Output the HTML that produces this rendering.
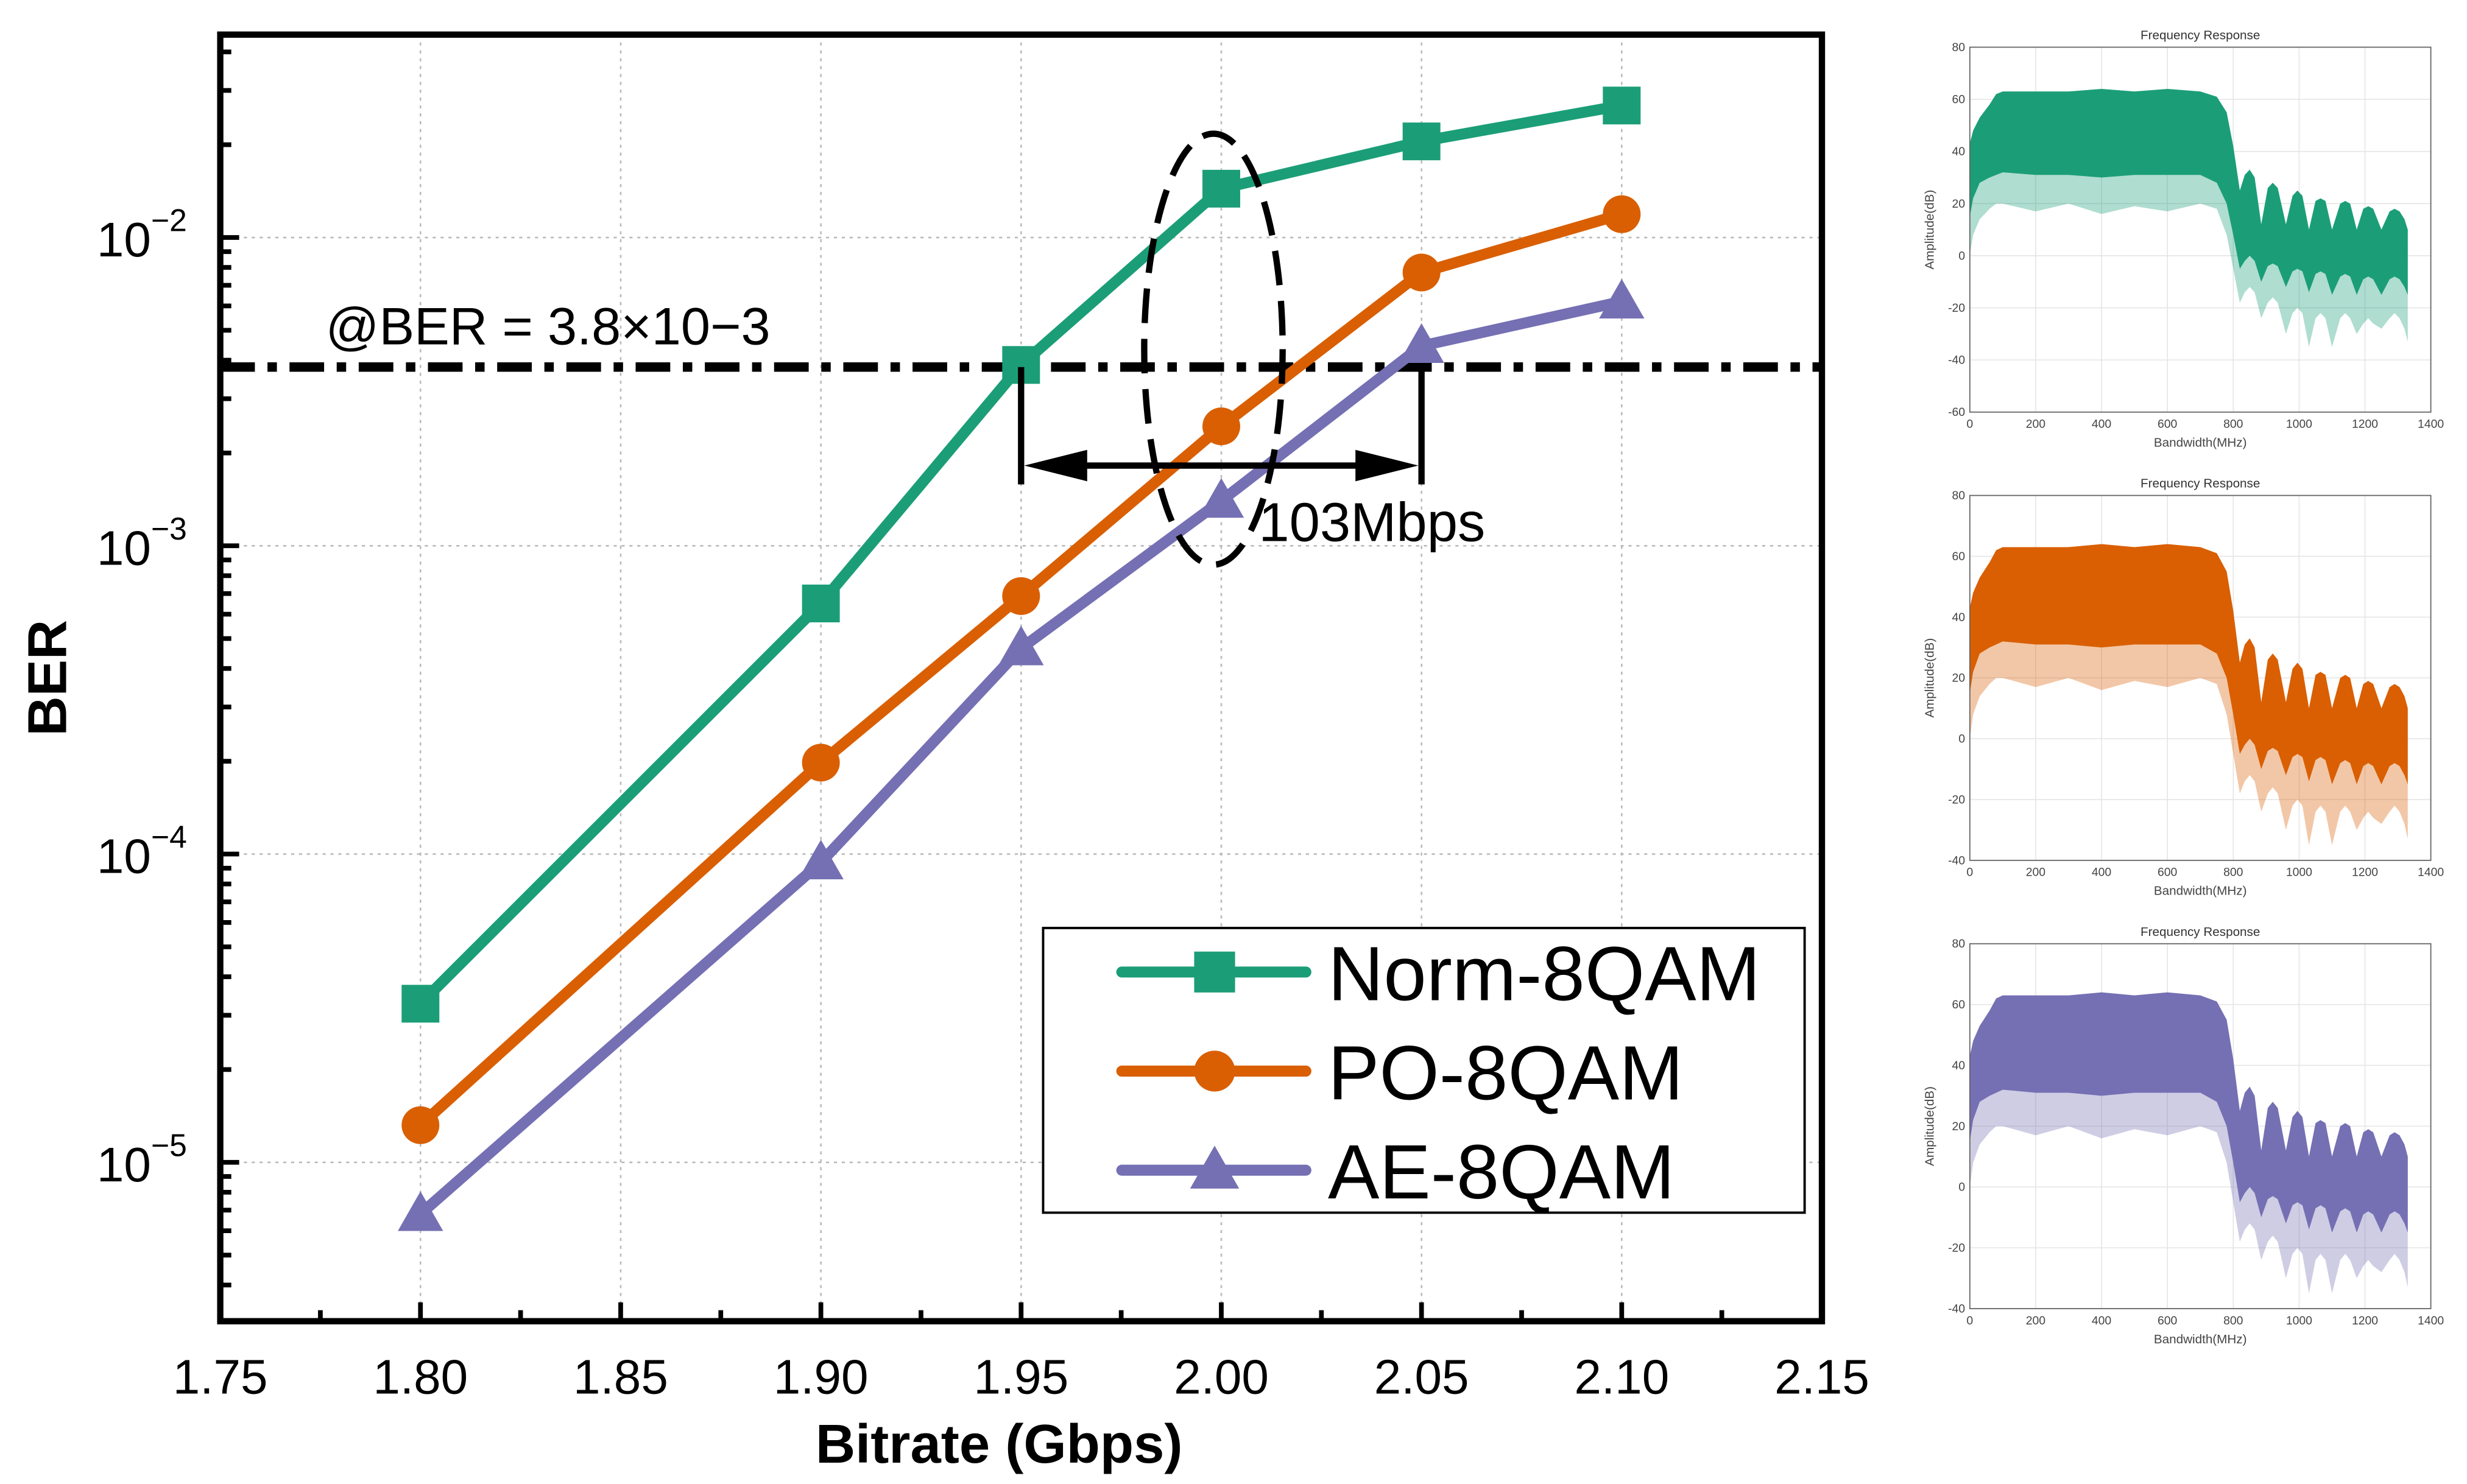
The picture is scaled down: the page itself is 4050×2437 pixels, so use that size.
<!DOCTYPE html>
<html><head><meta charset="utf-8"><style>
html,body{margin:0;padding:0;background:#fff}
svg{display:block}
text{font-family:"Liberation Sans",sans-serif}
</style></head><body>
<svg id="fig" width="4050" height="2437" viewBox="0 0 1568 943.5" xmlns="http://www.w3.org/2000/svg"></svg>
<script>
// ---- main chart data ----
const bitrates = [1.80, 1.90, 1.95, 2.00, 2.05, 2.10];
const normBER = [3.27e-5, 6.5e-4, 3.86e-3, 1.44e-2, 2.05e-2, 2.68e-2];
const poBER   = [1.32e-5, 1.98e-4, 6.87e-4, 2.44e-3, 7.7e-3, 1.19e-2];
const aeBER   = [6.8e-6, 9.4e-5, 4.65e-4, 1.4e-3, 4.45e-3, 6.2e-3];
const xTicks = [1.75, 1.80, 1.85, 1.90, 1.95, 2.00, 2.05, 2.10, 2.15];
const xTickLabels = ["1.75","1.80","1.85","1.90","1.95","2.00","2.05","2.10","2.15"];
const yDecades = [-2, -3, -4, -5];
const thresholdBER = 3.8e-3;
// ---- spectrum panels data (freq MHz, dB) ----
const specFreq  = [0,10,30,60,80,100,200,300,400,500,600,700,750,780,800,820,835,850,865,885,905,920,935,960,980,995,1010,1030,1050,1065,1080,1100,1125,1140,1155,1175,1195,1210,1225,1250,1275,1290,1305,1320,1330];
const specUpper = [43,48,53,58,62,63,63,63,64,63,64,63,61,55,42,25,31,33,30,12,26,28,26,12,23,25,23,10,21,22,21,10,20,21,20,10,18,19,18,10,17,18,17,14,10];
const specMid   = [15,22,28,30,31,32,31,31,30,31,31,31,28,20,8,-5,-2,0,-2,-10,-4,-3,-4,-12,-6,-5,-6,-14,-7,-6,-7,-15,-8,-7,-8,-15,-9,-8,-9,-15,-9,-8,-9,-12,-15];
const specLow   = [0,8,14,18,20,20,17,20,16,19,17,20,18,8,-5,-18,-14,-12,-14,-24,-18,-16,-18,-30,-22,-20,-22,-35,-24,-22,-24,-35,-24,-22,-24,-30,-26,-24,-26,-28,-24,-22,-24,-28,-33];

const svg = document.getElementById('fig');
const NS = 'http://www.w3.org/2000/svg';
function mk(tag, attrs, parent){const e=document.createElementNS(NS,tag);for(const k in attrs)e.setAttribute(k,attrs[k]);(parent||svg).appendChild(e);return e;}

const L=140,R=1158,T=22,B=840;
const xS = v => L + (v-1.75)/0.4*(R-L);
const yS = v => 151 - (Math.log10(v)+2)*196;

const grid = mk('g',{});


xTicks.slice(1,-1).forEach(t=>mk('line',{x1:xS(t),x2:xS(t),y1:T,y2:B,stroke:'#bbb','stroke-width':1,'stroke-dasharray':'2,3'},grid));
yDecades.forEach(d=>mk('line',{x1:L,x2:R,y1:yS(Math.pow(10,d)),y2:yS(Math.pow(10,d)),stroke:'#bbb','stroke-width':1,'stroke-dasharray':'2,3'},grid));

const ticks = mk('g',{stroke:'#000','stroke-width':3});


xTicks.forEach(t=>mk('line',{x1:xS(t),x2:xS(t),y1:B,y2:B-12},ticks));
for(let i=0;i<8;i++){const t=1.775+0.05*i;mk('line',{x1:xS(t),x2:xS(t),y1:B,y2:B-7},ticks);}
for(let d=-6; d<=-1; d++){
  for(let m=1;m<10;m++){
    const v=m*Math.pow(10,d), y=yS(v);
    if(y<T+2||y>B-2) continue;
    mk('line',{x1:L,x2:L+(m===1?12:7),y1:y,y2:y},ticks);
  }
}

xTicks.forEach((t,i)=>{
  const tx=mk('text',{x:xS(t),y:886,'font-size':31,'text-anchor':'middle',fill:'#000'});
  tx.textContent=xTickLabels[i];
  
  
});
yDecades.forEach(d=>{
  const y=yS(Math.pow(10,d));
  const tx=mk('text',{x:96,y:y+12,'font-size':31,'text-anchor':'end',fill:'#000'});
  tx.textContent='10';
  
  
  const sp=mk('text',{x:96,y:y-4,'font-size':20,fill:'#000'});
  sp.textContent='\u2212'+(-d);
  
  
});
let at=mk('text',{x:635,y:930,'font-size':35,'font-weight':'bold','text-anchor':'middle'});
at.textContent='Bitrate (Gbps)';


at=mk('text',{x:0,y:0,'font-size':35,'font-weight':'bold','text-anchor':'middle',transform:'translate(42,431) rotate(-90)'});
at.textContent='BER';



const th=mk('line',{x1:L,x2:R,y1:yS(thresholdBER),y2:yS(thresholdBER),stroke:'#000','stroke-width':6,'stroke-dasharray':'22,8,6,8'});


const tht=mk('text',{x:207,y:219,'font-size':33.5});
tht.textContent='@BER = 3.8\u00d710\u22123';



const colors={norm:'#1b9e77',po:'#d95f02',ae:'#7570b3'};
function marker(g,type,x,y,c,s){
  if(type==='sq') return mk('rect',{x:x-s/2,y:y-s/2,width:s,height:s,fill:c},g);
  if(type==='ci') return mk('circle',{cx:x,cy:y,r:s/2,fill:c},g);
  return mk('polygon',{points:`${x},${y-s*0.6} ${x-s*0.6},${y+s*0.45} ${x+s*0.6},${y+s*0.45}`,fill:c},g);
}
function series(name,vals,c,type){
  const g=mk('g',{});
  
  
  const p=mk('polyline',{points:vals.map((v,i)=>xS(bitrates[i])+','+yS(v)).join(' '),fill:'none',stroke:c,'stroke-width':7,'stroke-linejoin':'round'},g);
  
  
  vals.forEach((v,i)=>{const m=marker(g,type,xS(bitrates[i]),yS(v),c,24);
    
    });
}
series('norm-8qam',normBER,colors.norm,'sq');
series('po-8qam',poBER,colors.po,'ci');
series('ae-8qam',aeBER,colors.ae,'tr');

const an=mk('g',{stroke:'#000','stroke-width':4,fill:'#000'});


const ty=yS(thresholdBER);
mk('line',{x1:xS(1.95),x2:xS(1.95),y1:ty,y2:308},an);
mk('line',{x1:xS(2.05),x2:xS(2.05),y1:ty,y2:308},an);
mk('line',{x1:xS(1.95)+30,x2:xS(2.05)-30,y1:296,y2:296},an);
mk('polygon',{points:`${xS(1.95)+2},296 ${xS(1.95)+42},286 ${xS(1.95)+42},306`,stroke:'none'},an);
mk('polygon',{points:`${xS(2.05)-2},296 ${xS(2.05)-42},286 ${xS(2.05)-42},306`,stroke:'none'},an);
const el=mk('ellipse',{cx:xS(2.0)-5,cy:222,rx:44,ry:137,fill:'none',stroke:'#000','stroke-width':4,'stroke-dasharray':'22,10'});


const mb=mk('text',{x:800,y:344,'font-size':35});
mb.textContent='103Mbps';



const lg=mk('g',{});


mk('rect',{x:663,y:590,width:484,height:181,fill:'#fff',stroke:'#000','stroke-width':1.5},lg);
[['Norm-8QAM',colors.norm,'sq',618],['PO-8QAM',colors.po,'ci',681],['AE-8QAM',colors.ae,'tr',744]].forEach(e=>{
  const ge=mk('g',{},lg);
  
  
  mk('line',{x1:713,x2:830,y1:e[3],y2:e[3],stroke:e[1],'stroke-width':7,'stroke-linecap':'round'},ge);
  marker(ge,e[2],772,e[3],e[1],26);
  const t=mk('text',{x:844,y:e[3]+18,'font-size':49},ge);t.textContent=e[0];
});

const fr=mk('rect',{x:L,y:T,width:R-L,height:B-T,fill:'none',stroke:'#000','stroke-width':4});



function panel(name,top,bottom,yMin,c){
  const g=mk('g',{});
  
  
  const pl=1252,pr=1545;
  const px=f=>pl+f/1400*(pr-pl);
  const py=v=>top+(80-v)/(80-yMin)*(bottom-top);
  for(let v=yMin; v<=80; v+=20){
    mk('line',{x1:pl,x2:pr,y1:py(v),y2:py(v),stroke:'#e4e4e4','stroke-width':0.6},g);
    const t=mk('text',{x:pl-3,y:py(v)+2.5,'font-size':7.5,'text-anchor':'end',fill:'#444'},g);t.textContent=v;
  }
  for(let f=0; f<=1400; f+=200){
    mk('line',{x1:px(f),x2:px(f),y1:top,y2:bottom,stroke:'#e4e4e4','stroke-width':0.6},g);
    const t=mk('text',{x:px(f),y:bottom+10,'font-size':7.5,'text-anchor':'middle',fill:'#444'},g);t.textContent=f;
  }
  const low=specFreq.map((f,i)=>px(f)+','+py(Math.max(specLow[i],yMin))).reverse();
  const mid=specFreq.map((f,i)=>px(f)+','+py(specMid[i])).reverse();
  const up=specFreq.map((f,i)=>px(f)+','+py(specUpper[i]));
  mk('polygon',{points:up.concat(low).join(' '),fill:c,'fill-opacity':0.35},g);
  mk('polygon',{points:up.concat(mid).join(' '),fill:c},g);
  mk('rect',{x:pl,y:top,width:pr-pl,height:bottom-top,fill:'none',stroke:'#666','stroke-width':0.7},g);
  let t=mk('text',{x:(pl+pr)/2,y:top-5,'font-size':8,'text-anchor':'middle',fill:'#333'},g);t.textContent='Frequency Response';
  t=mk('text',{x:(pl+pr)/2,y:bottom+22,'font-size':8,'text-anchor':'middle',fill:'#444'},g);t.textContent='Bandwidth(MHz)';
  t=mk('text',{x:0,y:0,'font-size':8,'text-anchor':'middle',fill:'#444',transform:`translate(1229,${(top+bottom)/2}) rotate(-90)`},g);t.textContent='Amplitude(dB)';
}
panel('spectrum-norm',30,262,-60,colors.norm);
panel('spectrum-po',315,547,-40,colors.po);
panel('spectrum-ae',600,832,-40,colors.ae);
</script>
</body></html>
